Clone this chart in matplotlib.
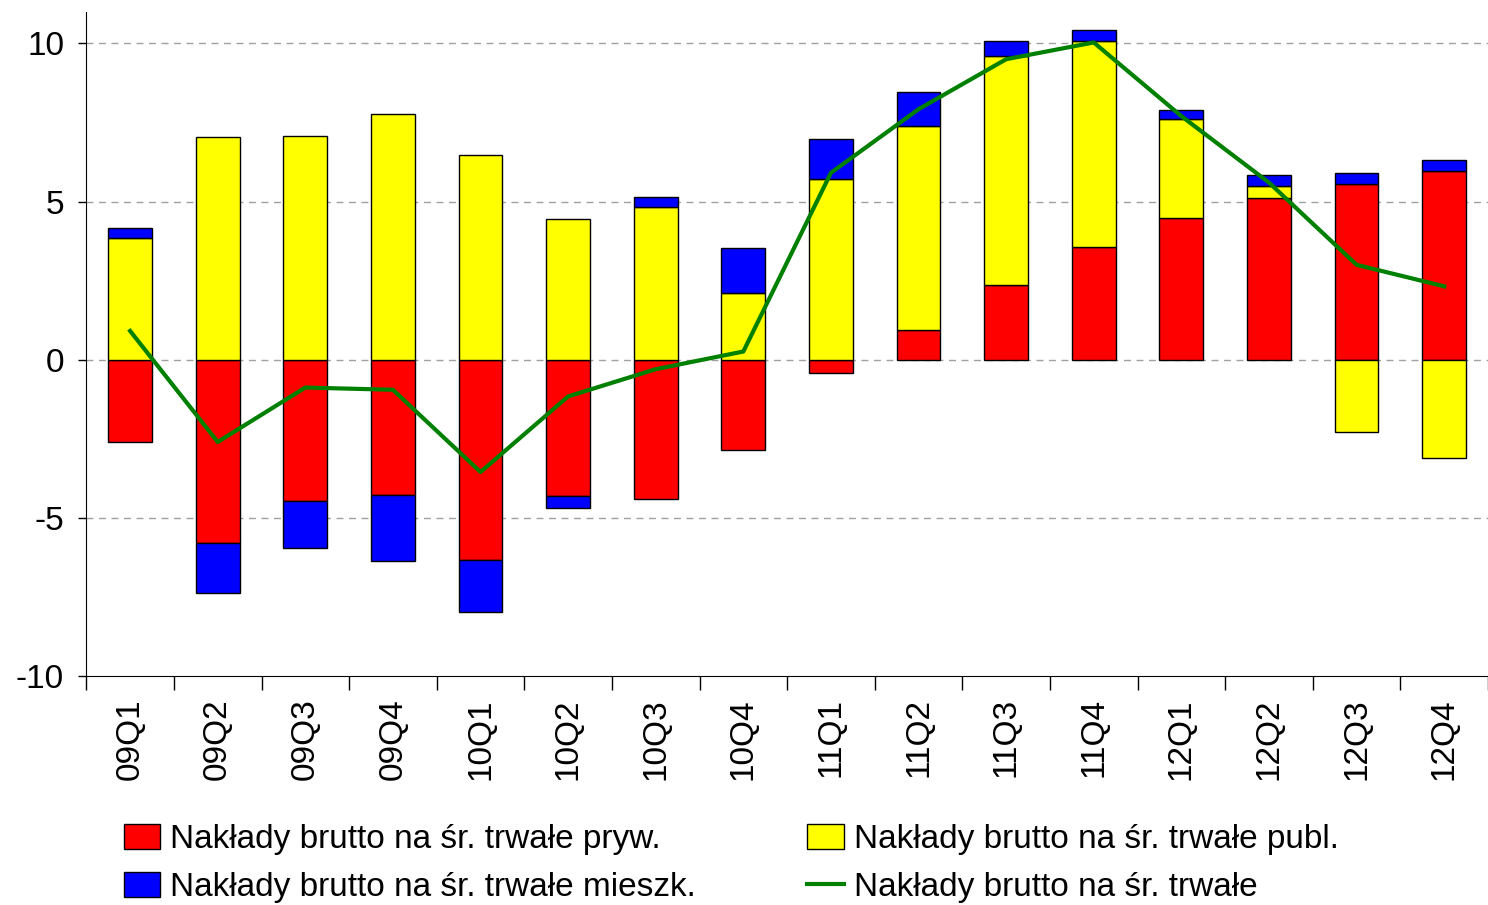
import numpy as np
import matplotlib
matplotlib.use("Agg")
import matplotlib.pyplot as plt

plt.rcParams['font.family'] = ['Liberation Sans', 'DejaVu Sans']
plt.rcParams['axes.unicode_minus'] = False

quarters = ["09Q1", "09Q2", "09Q3", "09Q4", "10Q1", "10Q2", "10Q3", "10Q4",
            "11Q1", "11Q2", "11Q3", "11Q4", "12Q1", "12Q2", "12Q3", "12Q4"]
pryw = [-2.60, -5.81, -4.47, -4.27, -6.32, -4.31, -4.40, -2.87,
        -0.43, 0.95, 2.37, 3.55, 4.47, 5.11, 5.56, 5.97]
publ = [3.86, 7.04, 7.07, 7.77, 6.47, 4.45, 4.82, 2.11,
        5.72, 6.44, 7.24, 6.54, 3.14, 0.39, -2.28, -3.11]
mieszk = [0.31, -1.56, -1.48, -2.08, -1.66, -0.39, 0.32, 1.42,
          1.27, 1.08, 0.46, 0.32, 0.30, 0.34, 0.34, 0.35]
total = [0.91, -2.60, -0.88, -0.95, -3.55, -1.16, -0.30, 0.26,
         5.91, 7.92, 9.50, 10.03, 7.70, 5.60, 3.00, 2.32]

labels = ["Nakłady brutto na śr. trwałe pryw.",
          "Nakłady brutto na śr. trwałe publ.",
          "Nakłady brutto na śr. trwałe mieszk.",
          "Nakłady brutto na śr. trwałe"]

fig = plt.figure(figsize=(14.88, 9.05), dpi=100)
ax = fig.add_axes([0.058, 0.253, 0.942, 0.734])

x = np.arange(len(quarters))
pos_bottom = np.zeros(len(x))
neg_bottom = np.zeros(len(x))
handles = []
for vals, col, lab in [(pryw, "#ff0000", labels[0]),
                       (publ, "#ffff00", labels[1]),
                       (mieszk, "#0000ff", labels[2])]:
    v = np.array(vals)
    bottom = np.where(v >= 0, pos_bottom, neg_bottom)
    b = ax.bar(x, v, 0.5, bottom=bottom, color=col, edgecolor="black",
               linewidth=1.0, label=lab, zorder=2)
    handles.append(b)
    pos_bottom += np.where(v >= 0, v, 0)
    neg_bottom += np.where(v < 0, v, 0)

ln, = ax.plot(x, total, color="#008000", lw=3, label=labels[3], zorder=3)

ax.set_xlim(-0.5, len(x) - 0.5)
ax.set_ylim(-10, 11)
ax.set_yticks([-10, -5, 0, 5, 10])
for yv in [-5, 0, 5, 10]:
    ax.axhline(yv, color="#a0a0a0", lw=1, ls=(0, (5, 4)), zorder=1)

ax.set_xticks(x)
ax.set_xticklabels(quarters, rotation=90, fontsize=24)
ax.tick_params(axis="x", which="major", length=0, pad=16)
ax.set_xticks(np.arange(-0.5, len(x), 1.0), minor=True)
ax.tick_params(axis="x", which="minor", length=10, width=1)
ax.tick_params(axis="y", labelsize=24, length=6, width=1, pad=10)

ax.spines["top"].set_visible(False)
ax.spines["right"].set_visible(False)

fig.legend([handles[0], handles[2], handles[1], ln],
           [labels[0], labels[2], labels[1], labels[3]],
           ncol=2, loc="lower left", bbox_to_anchor=(0.063, -0.031),
           frameon=False, fontsize=24, handlelength=1.1, handleheight=0.8,
           handletextpad=0.3, columnspacing=3.33, labelspacing=0.5)

fig.savefig("out.png", dpi=100)
